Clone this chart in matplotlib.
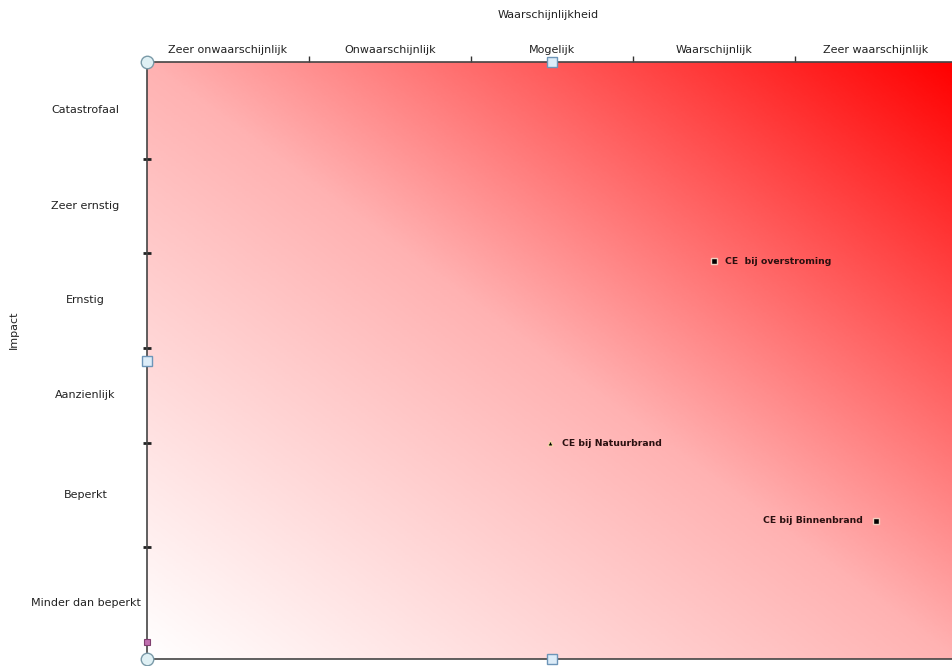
import numpy as np
import matplotlib.pyplot as plt
from matplotlib.colors import LinearSegmentedColormap

# kansklassen (x) en impactklassen (y)
kans = ['Zeer onwaarschijnlijk', 'Onwaarschijnlijk', 'Mogelijk',
        'Waarschijnlijk', 'Zeer waarschijnlijk']
impact = ['Minder dan beperkt', 'Beperkt', 'Aanzienlijk',
          'Ernstig', 'Zeer ernstig', 'Catastrofaal']
# grenzen tussen de impactklassen zoals in het origineel
impact_grenzen = [1.13, 2.17, 3.13, 4.08, 5.03]

# risico's
namen = ['CE  bij overstroming', 'CE bij Natuurbrand', 'CE bij Binnenbrand']
kans_waarde = [3.5, 2.49, 4.5]
impact_waarde = [4.0, 2.17, 1.39]

fig = plt.figure(figsize=(9.52, 6.66), dpi=100)
ax = fig.add_axes([147 / 952, 7 / 666, 810 / 952, 597 / 666])

# achtergrond: wit linksonder naar rood rechtsboven
nx, ny = 400, 300
gx, gy = np.meshgrid(np.linspace(0, 1, nx), np.linspace(0, 1, ny))
grad = (gx + gy) / 2
cmap = LinearSegmentedColormap.from_list('wr', ['#ffffff', '#ffb2b2', '#ff0000'])
ax.imshow(grad, extent=[0, len(kans), 0, len(impact)], origin='lower',
          cmap=cmap, aspect='auto', interpolation='bilinear', zorder=0)

ax.set_xlim(0, len(kans))
ax.set_ylim(0, len(impact))

# tick-streepjes op de grenzen, labels in het midden
ax.xaxis.tick_top()
ax.set_xticks(range(1, len(kans)))
ax.set_xticklabels([])
ax.set_yticks(impact_grenzen)
ax.set_yticklabels([])
ax.tick_params(axis='x', direction='out', length=4, width=1, color='#333333')
ax.tick_params(axis='y', direction='inout', length=6, width=2, color='#222222')

for i, k in enumerate(kans):
    ax.text(i + 0.5, 1.012, k, transform=ax.get_xaxis_transform(),
            ha='center', va='bottom', fontsize=8, color='#222222')
rand = [0] + impact_grenzen + [len(impact)]
for j, im in enumerate(impact):
    ax.text(-0.076, (rand[j] + rand[j + 1]) / 2, im,
            transform=ax.get_yaxis_transform(),
            ha='center', va='center', fontsize=8, color='#222222')

fig.text(548 / 952, 1 - 15 / 666, 'Waarschijnlijkheid', ha='center',
         va='center', fontsize=8, color='#222222')
fig.text(14 / 952, 1 - 330 / 666, 'Impact', ha='center', va='center',
         rotation=90, fontsize=8, color='#222222')

for s in ['left', 'top', 'bottom']:
    ax.spines[s].set_color('#444444')
    ax.spines[s].set_linewidth(1.2)
ax.spines['right'].set_visible(False)

# punten
ax.plot(kans_waarde[0], impact_waarde[0], 's', ms=5, color='black',
        mec='#f2d0c0', mew=1)
ax.text(kans_waarde[0] + 0.07, impact_waarde[0], namen[0], fontsize=6.7,
        fontweight='bold', va='center', ha='left', color='#2a1010')
ax.plot(kans_waarde[1], impact_waarde[1], '^', ms=3.5, color='black',
        mec='#f5e6a0', mew=0.6)
ax.text(kans_waarde[1] + 0.07, impact_waarde[1], namen[1], fontsize=6.7,
        fontweight='bold', va='center', ha='left', color='#2a1010')
ax.plot(kans_waarde[2], impact_waarde[2], 's', ms=5, color='black',
        mec='#f2d0c0', mew=1)
ax.text(kans_waarde[2] - 0.08, impact_waarde[2], namen[2], fontsize=6.7,
        fontweight='bold', va='center', ha='right', color='#2a1010')

# selectiegrepen van de editor
ax.plot([0, 0], [0, len(impact)], 'o', ms=9, mfc='#dff0f4', mec='#7a9aa8',
        mew=1, clip_on=False, zorder=5)
ax.plot([2.5, 2.5, 0], [0, len(impact), 3], 's', ms=7, mfc='#dcecf8',
        mec='#6d95b8', mew=1, clip_on=False, zorder=5)
ax.plot([0], [0.17], 's', ms=5, mfc='#c070b0', mec='#804070', mew=0.8,
        clip_on=False, zorder=5)

fig.savefig('out.png', dpi=100)
